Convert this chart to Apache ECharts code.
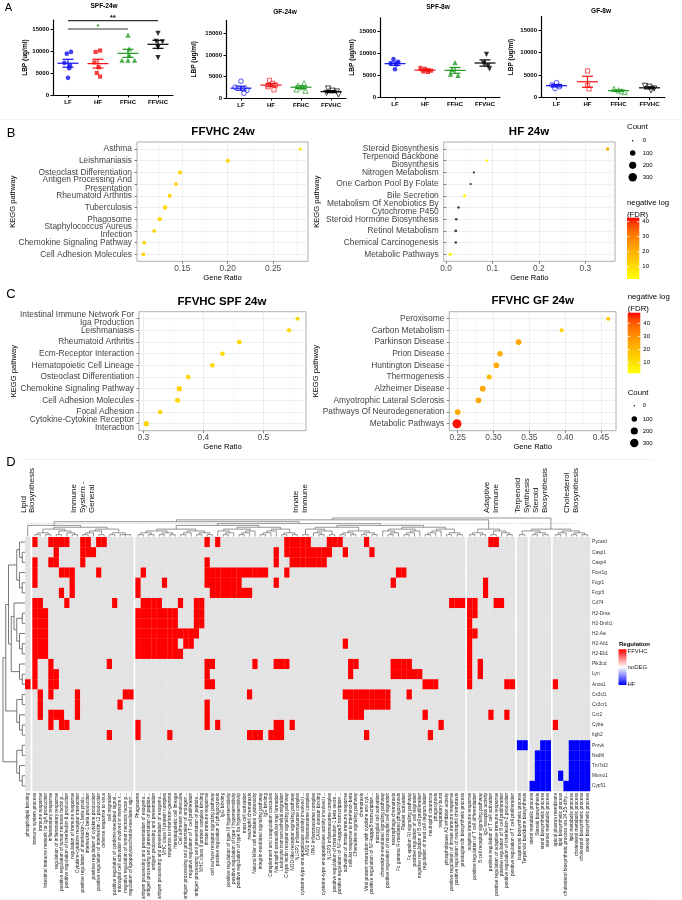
<!DOCTYPE html>
<html>
<head>
<meta charset="utf-8">
<script src="https://cdn.jsdelivr.net/npm/echarts@6.0.0/dist/echarts.min.js"></script>
<style>
html,body{margin:0;padding:0;background:#ffffff;}
#chart{width:682px;height:900px;}
</style>
</head>
<body>
<div id="chart"></div>
<script>
const FONT = '"Liberation Sans", Arial, Helvetica, sans-serif';

// ================= DATA: Panel A (LBP, ug/ml) =================
const groupNames = ['LF', 'HF', 'FFHC', 'FFVHC'];
const ticksA = [0, 5000, 10000, 15000];
const spf24wValues = [[9800, 9400, 7300, 6800, 6100, 3900], [10100, 9800, 7400, 6300, 5000, 4200], [13600, 10500, 9000, 7900, 7900, 7900], [14000, 12200, 12100, 10800, 8500]];
const spf24wJitter = [[0.1, -0.04, -0.12, 0.07, 0.04, 0], [0.07, -0.08, -0.12, 0.02, -0.04, 0.07], [0, 0.04, 0.05, -0.2, 0.0, 0.22], [0, -0.06, 0.15, 0, 0]];
const gf24wValues = [[3900, 2500, 2100, 1800, 1100], [4100, 3400, 3000, 2600, 1900], [3400, 2900, 2500, 2000, 1700], [2200, 1700, 1500, 1200, 800]];
const gf24wJitter = [[0, -0.2, 0.05, 0.2, 0.1], [-0.05, 0.05, 0.15, -0.1, 0.1], [0.1, -0.1, 0.05, -0.15, 0.15], [-0.1, 0.05, 0.2, -0.15, 0.25]];
const spf8wValues = [[8600, 8000, 7600, 7400, 6300], [6600, 6400, 6100, 6000, 5800, 5700], [7800, 6300, 5200, 4900], [9700, 7700, 7100, 6400]];
const spf8wJitter = [[-0.05, 0.1, -0.15, 0.05, 0], [-0.15, 0, 0.1, 0.2, -0.05, 0.1], [0, -0.1, -0.15, 0.1], [0.05, -0.05, 0.1, 0.15]];
const gf8wValues = [[3300, 2800, 2400, 2000], [5900, 2700, 1900], [1900, 1600, 1400, 1200], [2600, 2400, 2000, 1600]];
const gf8wJitter = [[0, -0.15, 0.1, -0.05], [0, 0, 0.05], [-0.15, 0, 0.1, 0.2], [-0.15, 0, 0.15, 0.05]];
// significance bars on SPF-24w: [fromGroup, toGroup, level, mark]
const sigBars = [[1, 3, 15000, '*'], [1, 4, 16900, '**']];
const sigColors = ['#1E991E', '#000000'];

// ================= DATA: Panels B / C (KEGG enrichment) =================
const b1Pathways = ['Asthma', 'Leishmaniasis', 'Osteoclast Differentiation', 'Antigen Processing And\nPresentation', 'Rheumatoid Arthritis', 'Tuberculosis', 'Phagosome', 'Staphylococcus Aureus\nInfection', 'Chemokine Signaling Pathway', 'Cell Adhesion Molecules'];
const b1GeneRatio = [0.280, 0.200, 0.1475, 0.143, 0.136, 0.131, 0.125, 0.119, 0.108, 0.107];
const b1Count = [14, 39, 39, 30, 39, 49, 49, 30, 30, 30];
const b1FDR = [9, 12, 12, 12, 12, 12, 12, 12, 12, 12];

const b2Pathways = ['Steroid Biosynthesis', 'Terpenoid Backbone\nBiosynthesis', 'Nitrogen Metabolism', 'One Carbon Pool By Folate', 'Bile Secretion', 'Metabolism Of Xenobiotics By\nCytochrome P450', 'Steroid Hormone Biosynthesis', 'Retinol Metabolism', 'Chemical Carcinogenesis', 'Metabolic Pathways'];
const b2GeneRatio = [0.348, 0.0875, 0.060, 0.053, 0.040, 0.027, 0.022, 0.021, 0.021, 0.009];
const b2Count = [20, 6, 3, 3, 14, 6, 6, 9, 6, 18];
const b2FDR = [21, 4, null, null, 4.3, null, null, null, null, 4.7];

const c1Pathways = ['Intestinal Immune Network For\nIga Production', 'Leishmaniasis', 'Rheumatoid Arthritis', 'Ecm-Receptor Interaction', 'Hematopoietic Cell Lineage', 'Osteoclast Differentiation', 'Chemokine Signaling Pathway', 'Cell Adhesion Molecules', 'Focal Adhesion', 'Cytokine-Cytokine Receptor\nInteraction'];
const c1GeneRatio = [0.557, 0.543, 0.46, 0.432, 0.415, 0.375, 0.36, 0.357, 0.328, 0.305];
const c1Count = [39, 49, 64, 56, 64, 64, 90, 77, 56, 90];
const c1FDR = [13, 13, 13, 13, 13, 13, 14, 13, 13, 14];

const c2Pathways = ['Peroxisome', 'Carbon Metabolism', 'Parkinson Disease', 'Prion Disease', 'Huntington Disease', 'Thermogenesis', 'Alzheimer Disease', 'Amyotrophic Lateral Sclerosis', 'Pathways Of Neurodegeneration', 'Metabolic Pathways'];
const c2GeneRatio = [0.46, 0.395, 0.335, 0.309, 0.304, 0.294, 0.285, 0.279, 0.25, 0.249];
const c2Count = [39, 39, 110, 100, 110, 77, 110, 110, 115, 352];
const c2FDR = [17, 15, 25, 23, 24, 20, 25, 25, 24, 47];

const countBreaks = [0, 100, 200, 300];
const fdrBreaks = [10, 20, 30, 40];

// ================= DATA: Panel D (heatmap) =================
const geneRows = ['Pycard', 'Casp1', 'Casp4', 'Fcer1g', 'Fcgr1', 'Fcgr3', 'Cd74', 'H2-Dma', 'H2-Dmb1', 'H2-Aa', 'H2-Ab1', 'H2-Eb1', 'Pik3cd', 'Lyn', 'Anxa1', 'Cx3cl1', 'Cx3cr1', 'Ccr2', 'Cyba', 'Itgb2', 'Pmvk', 'Nsdhl', 'Tm7sf2', 'Msmo1', 'Cyp51'];
const columnGroupSizes = [1, 19, 62, 9, 2, 4, 7];
const columnGroupNames = ['Lipid\nBiosynthesis', 'Immune\nSystem -\nGeneral', 'Innate\nImmune', 'Adaptive\nImmune', 'Terpenoid\nSynthesis', 'Steroid\nBiosynthesis', 'Cholesterol\nBiosynthesis'];
const columnTerms = [
  'phospholipid binding',
  'immune system process', 'immune response', 'Intestinal immune network for IgA production', 'inflammatory response', 'regulation of inflammatory response', 'positive regulation of tumor necrosis factor p...', 'positive regulation of interleukin-6 production', 'regulation of immune response', 'Cytokine-cytokine receptor interaction', 'positive regulation of interleukin-1 beta produ...', 'interleukin-1 beta production', 'positive regulation of cytokine production', 'positive regulation of interleukin-12 production', 'defense response to virus', 'cell migration', 'positive regulation of cytokine-mediated signal...', 'microglial cell activation involved in immune r...', 'negative regulation of tumor necrosis factor p...', 'regulation of lipopolysaccharide-mediated sign...',
  'Phagosome', 'antigen processing and presentation of exogeno...', 'antigen processing and presentation of peptide...', 'antigen processing and presentation', 'antigen processing and presentation of exogeno...', 'MHC class II protein complex', 'response to interferon-gamma', 'Hematopoietic cell lineage', 'Cell adhesion molecules', 'antigen processing and presentation of endogen...', 'negative regulation of T cell proliferation', 'antigen processing and presentation of peptide...', 'MHC class II protein complex binding', 'innate immune response', 'cell surface receptor signaling pathway', 'positive regulation of phagocytosis', 'IgG binding', 'positive regulation of type III hypersensitivity', 'positive regulation of type I hypersensitivity', 'positive regulation of type IIa hypersensitivity', 'mast cell activation', 'neutrophil chemotaxis', 'Natural killer cell mediated cytotoxicity', 'integrin-mediated signaling pathway', 'IgE binding', 'Complement and coagulation cascades', 'Neutrophil extracellular trap formation', 'Leukocyte transendothelial migration', 'C-type lectin receptor signaling pathway', 'NOD-like receptor signaling pathway', 'NLRP1 inflammasome complex', 'cysteine-type endopeptidase activity involved i...', 'AIM2 inflammasome complex', 'IPAF inflammasome complex', 'CARD domain binding', 'cysteine-type endopeptidase activity involved i...', 'NLRP3 inflammasome complex', 'positive regulation of interleukin-1 beta secre...', 'positive regulation of NF-kappaB transcription...', 'activation of innate immune response', 'cellular response to interferon-beta', 'Chemokine signaling pathway', 'chemotaxis', 'Viral protein interaction with cytokine and cyt...', 'positive regulation of NF-kappaB transcription...', 'microglial cell activation', 'chemokine-mediated signaling pathway', 'positive regulation of microglial cell migration', 'macrophage chemotaxis', 'Fc gamma R-mediated phagocytosis', 'Platelet activation', 'Fc epsilon RI signaling pathway', 'positive regulation of cell migration', 'negative regulation of B cell proliferation', 'regulation of mast cell degranulation', 'neutrophil clearance', 'phagocytosis', 'respiratory burst', 'phospholipase A2 inhibitor activity', 'positive regulation of innate immune response', 'positive regulation of neutrophil chemotaxis', 'prostaglandin biosynthetic process',
  'adaptive immune response', 'positive regulation of T cell differentiation', 'B cell receptor signaling pathway', 'IgG receptor activity', 'positive regulation of T cell activation', 'positive regulation of adaptive immune response', 'positive regulation of B cell proliferation', 'positive regulation of interleukin-2 production', 'positive regulation of T cell proliferation',
  'isoprenoid biosynthetic process', 'Terpenoid backbone biosynthesis',
  'sterol metabolic process', 'Steroid biosynthesis', 'sterol biosynthetic process', 'steroid metabolic process',
  'apical plasma membrane', 'lipid biosynthetic process', 'cholesterol biosynthetic process via 24,25-dihy...', 'lipid metabolic process', 'cholesterol metabolic process', 'cholesterol biosynthetic process', 'steroid biosynthetic process'
];
// columns where each gene is up in FFVHC (value 1)
const ffvhcUpColumns = [
  '1,4-7,10-11,13-14,33,35,48-52,56-58,63,86-87',
  '5,10-12,46,48-56,59,64',
  '1,4-5,10,33,46,49-55',
  '1,6-8,13,21,33-44,48,69-70',
  '1,8,20,25,33-39,46,68,85',
  '6,8,20,34-41,85',
  '1-2,7,16,21-24,28,31-32,79-83,87-88',
  '1-3,20-27,31-32,82-83',
  '1-3,20-27,31-32,82',
  '1-3,20-31,82-83',
  '1-3,20-27,29-30,59,82',
  '1-3,20-28,82',
  '1,4,15,33-34,42,46-48,60-61,68-71,82,84',
  '1,4-5,33,60,68-73,82,84',
  '0-1,4-5,33-34,74-76,82,89-90,97',
  '2,4,9,18-19,41,59-67,71',
  '2,9,17,33,60-67',
  '2,4-6,9,33,60-62,74,86,89',
  '4,6-7,20,33,35,46-47,49,77,97',
  '15,20,26,41-43,45-47,63,75',
  '', '', '', '', ''
];
// columns where each gene is up in HF (value -1)
const hfUpColumns = [
  '', '', '', '', '', '', '', '', '', '', '', '', '', '', '', '', '', '', '', '',
  '91-92,95-96,100-103',
  '94-96,100-103',
  '94-96,100-103',
  '94-96,98,100-103',
  '93-96,99-103'
];
// dendrogram topologies ('*' = leaf, in display order)
const rowTree = '(((((*,(*,*)),(*,(*,*))),((*,((*,*),(*,(*,*)))),(*,(*,*)))),((*,*),(*,(*,*)))),((*,*),(*,(*,*))))';
const colTreeG2 = '((((*,*),(*,*)),((*,*),(*,(*,*)))),((((*,*),*),(*,*)),((*,*),(*,*,*))))';
const colTreeA8 = '(((*,*),(*,*)),((*,*),(*,*)))';
const colTreeB8 = '((*,((*,*),*)),(((*,*),*),*))';
const colTreeC7 = '(((*,*),*),((*,*),(*,*)))';
const colTreeD7 = '((*,*),((*,(*,*)),(*,*)))';
const colTreeE8 = '((((*,*),*),*),((*,*),(*,*)))';
const colTreeG4 = '(((*,*),(*,*)),((*,*),(*,(*,*))))';
const colTreeG5 = '(*,*)';
const colTreeG6 = '((*,*),(*,*))';
const colTreeG7 = '(((*,*),*),((*,*),(*,*)))';

// ================= helpers =================
const grids = [], xAxes = [], yAxes = [], series = [], graphics = [];
function txt(text, x, y, size, align, opts) {
  opts = opts || {};
  return { type: 'text', x: x, y: y, rotation: opts.rotation || 0, silent: true, z: 100,
    style: { text: text, fontSize: size, fontFamily: FONT, fontWeight: opts.bold ? 'bold' : 'normal', fill: opts.color || '#000', align: align || 'left', verticalAlign: 'middle', lineHeight: opts.lineHeight } };
}
function seg(x1, y1, x2, y2, color, w, dash) {
  return { type: 'line', silent: true, z: 100, shape: { x1: x1, y1: y1, x2: x2, y2: y2 }, style: { stroke: color, lineWidth: w || 1, lineDash: dash || null } };
}
function meanSem(a) {
  const n = a.length, m = a.reduce((s, v) => s + v, 0) / n;
  const sd = Math.sqrt(a.reduce((s, v) => s + (v - m) * (v - m), 0) / (n - 1));
  return [m, sd / Math.sqrt(n)];
}
const sizeFn = c => 1.5 + 0.4 * Math.sqrt(c);
const fdrStops = [[0, [255, 255, 0]], [0.25, [255, 212, 0]], [0.5, [255, 166, 0]], [0.75, [255, 114, 0]], [0.9, [255, 66, 0]], [1, [255, 0, 0]]];
function fdrColor(v, lo, hi) {
  if (v == null || v < 0) return '#3A3A3A';
  let t = (v - lo) / (hi - lo); t = Math.max(0, Math.min(1, t));
  for (let i = 1; i < fdrStops.length; i++) {
    const t0 = fdrStops[i - 1][0], c0 = fdrStops[i - 1][1], t1 = fdrStops[i][0], c1 = fdrStops[i][1];
    if (t <= t1) { const u = (t - t0) / (t1 - t0); const c = c0.map((x, k) => Math.round(x + (c1[k] - x) * u)); return 'rgb(' + c.join(',') + ')'; }
  }
  return 'rgb(255,0,0)';
}

// ================= Panel A =================
const groupColors = ['#1212F2', '#F21212', '#1E991E', '#000000'];
const groupSymbols = ['circle', 'rect', 'triangle', 'triangle'];
const groupRotate = [0, 0, 0, 180];
const groupSymSize = [4.6, 4.2, 5.2, 5.2];
const panelA = [
  { title: 'SPF-24w', vals: spf24wValues, jit: spf24wJitter, open: false, box: [53, 20.2, 120, 74.8], max: 17000, tx: 104, ty: 6, nameGap: 21.5 },
  { title: 'GF-24w', vals: gf24wValues, jit: gf24wJitter, open: true, box: [226, 20.4, 120, 77.6], max: 18000, tx: 285, ty: 12, nameGap: 28.5 },
  { title: 'SPF-8w', vals: spf8wValues, jit: spf8wJitter, open: false, box: [380, 17.8, 120, 79.2], max: 18000, tx: 438, ty: 7.3, nameGap: 22 },
  { title: 'GF-8w', vals: gf8wValues, jit: gf8wJitter, open: true, box: [541, 16.5, 124, 81], max: 18000, tx: 601, ty: 11.7, nameGap: 26 }
];
panelA.forEach((p, pi) => {
  const gi = grids.length, xi = xAxes.length, yi = yAxes.length;
  grids.push({ left: p.box[0], top: p.box[1], width: p.box[2], height: p.box[3], outerBoundsMode: 'none' });
  xAxes.push({ gridIndex: gi, type: 'value', min: 0.5, max: 4.5,
    axisLine: { show: true, onZero: false, lineStyle: { color: '#000', width: 1.2 } },
    axisTick: { show: true, customValues: [1, 2, 3, 4], length: 2.5, lineStyle: { color: '#000', width: 1 } },
    axisLabel: { show: true, customValues: [1, 2, 3, 4], showMinLabel: true, showMaxLabel: true, hideOverlap: false, formatter: v => groupNames[Math.round(v) - 1], fontSize: 6, fontWeight: 'bold', color: '#000', fontFamily: FONT, margin: 4 },
    splitLine: { show: false } });
  yAxes.push({ gridIndex: gi, type: 'value', min: 0, max: p.max,
    axisLine: { show: true, onZero: false, lineStyle: { color: '#000', width: 1.2 } },
    axisTick: { show: true, customValues: ticksA, length: 2.5, lineStyle: { color: '#000', width: 1 } },
    axisLabel: { show: true, customValues: ticksA, showMinLabel: true, showMaxLabel: true, hideOverlap: false, formatter: v => String(Math.round(v)), fontSize: 6, fontWeight: 'bold', color: '#000', fontFamily: FONT, margin: 4 },
    splitLine: { show: false },
    name: 'LBP (ug/ml)', nameLocation: 'middle', nameGap: p.nameGap, nameRotate: 90,
    nameTextStyle: { fontSize: 6.5, fontWeight: 'bold', color: '#000', fontFamily: FONT } });
  p.vals.forEach((arr, g) => {
    series.push({ type: 'scatter', xAxisIndex: xi, yAxisIndex: yi, silent: true, z: 3,
      symbol: groupSymbols[g], symbolRotate: groupRotate[g], symbolSize: groupSymSize[g],
      itemStyle: p.open ? { color: '#ffffff', borderColor: groupColors[g], borderWidth: 0.9 } : { color: groupColors[g] },
      data: arr.map((v, i) => [g + 1 + p.jit[g][i], v]) });
  });
  series.push({ type: 'custom', xAxisIndex: xi, yAxisIndex: yi, silent: true, z: 5, clip: false,
    data: p.vals.map((arr, g) => { const ms = meanSem(arr); return [g + 1, ms[0], ms[1], g]; }),
    renderItem: function (params, api) {
      const x = api.value(0), m = api.value(1), s = api.value(2), g = api.value(3);
      const c = api.coord([x, m]), up = api.coord([x, m + s]), dn = api.coord([x, m - s]);
      const st = { stroke: groupColors[g], lineWidth: 1.2 };
      return { type: 'group', children: [
        { type: 'line', shape: { x1: c[0] - 10.5, y1: c[1], x2: c[0] + 10.5, y2: c[1] }, style: st },
        { type: 'line', shape: { x1: c[0], y1: up[1], x2: c[0], y2: dn[1] }, style: st },
        { type: 'line', shape: { x1: c[0] - 5.5, y1: up[1], x2: c[0] + 5.5, y2: up[1] }, style: st },
        { type: 'line', shape: { x1: c[0] - 5.5, y1: dn[1], x2: c[0] + 5.5, y2: dn[1] }, style: st }
      ] };
    } });
  if (pi === 0) {
    series.push({ type: 'custom', xAxisIndex: xi, yAxisIndex: yi, silent: true, z: 5, clip: false,
      data: sigBars.map((b, k) => [b[0], b[1], b[2], k]),
      renderItem: function (params, api) {
        const k = api.value(3);
        const a = api.coord([api.value(0), api.value(2)]), b = api.coord([api.value(1), api.value(2)]);
        return { type: 'group', children: [
          { type: 'line', shape: { x1: a[0], y1: a[1], x2: b[0], y2: b[1] }, style: { stroke: '#333', lineWidth: 1.1 } },
          { type: 'text', x: (a[0] + b[0]) / 2, y: a[1] - 2.5, style: { text: sigBars[k][3], fontSize: 7.5, fontWeight: 'bold', fontFamily: FONT, fill: sigColors[k], align: 'center', verticalAlign: 'middle' } }
        ] };
      } });
  }
  graphics.push(txt(p.title, p.tx, p.ty, 6.5, 'center', { bold: true }));
});

// ================= Panels B / C =================
const panelsBC = [
  { title: 'FFVHC 24w', names: b1Pathways, ratio: b1GeneRatio, count: b1Count, fdr: b1FDR, box: [137, 142, 171, 119.3], xmin: 0.1, xmax: 0.2885, major: [0.15, 0.2, 0.25], minor: [0.125, 0.175, 0.225, 0.275], dec: 2, tx: 223, ty: 131.7, nameGap: 120.5, lim: [1.8, 42.7] },
  { title: 'HF 24w', names: b2Pathways, ratio: b2GeneRatio, count: b2Count, fdr: b2FDR, box: [443.7, 142, 171.3, 119.3], xmin: -0.005, xmax: 0.364, major: [0, 0.1, 0.2, 0.3], minor: [0.05, 0.15, 0.25, 0.35], dec: 1, tx: 529, ty: 131.7, nameGap: 123.2, lim: [1.8, 42.7] },
  { title: 'FFVHC SPF 24w', names: c1Pathways, ratio: c1GeneRatio, count: c1Count, fdr: c1FDR, box: [139, 311.7, 167, 119], xmin: 0.2928, xmax: 0.5712, major: [0.3, 0.4, 0.5], minor: [0.35, 0.45, 0.55], dec: 1, tx: 222, ty: 301.5, nameGap: 121, lim: [1.9, 48.1] },
  { title: 'FFVHC GF 24w', names: c2Pathways, ratio: c2GeneRatio, count: c2Count, fdr: c2FDR, box: [449.3, 311.7, 166.7, 119], xmin: 0.2383, xmax: 0.4709, major: [0.25, 0.3, 0.35, 0.4, 0.45], minor: [0.275, 0.325, 0.375, 0.425], dec: 2, tx: 532.7, ty: 301, nameGap: 129.2, lim: [1.9, 48.1] }
];
const rowPositions = [1, 2, 3, 4, 5, 6, 7, 8, 9, 10];
panelsBC.forEach(p => {
  const gi = grids.length, xi = xAxes.length, yi = yAxes.length;
  grids.push({ left: p.box[0], top: p.box[1], width: p.box[2], height: p.box[3], show: true, borderColor: '#9a9a9a', borderWidth: 0.8, backgroundColor: '#ffffff', outerBoundsMode: 'none' });
  xAxes.push({ gridIndex: gi, type: 'value', min: p.xmin, max: p.xmax,
    axisLine: { show: false },
    axisTick: { show: true, customValues: p.major, length: 2.5, lineStyle: { color: '#333', width: 0.6 } },
    axisLabel: { show: true, customValues: p.major, showMinLabel: true, showMaxLabel: true, hideOverlap: false, formatter: v => v.toFixed(p.dec), fontSize: 8.4, color: '#4D4D4D', fontFamily: FONT, margin: 3 },
    splitLine: { show: true, lineStyle: { color: '#E6E6E6', width: 0.7 } },
    name: 'Gene Ratio', nameLocation: 'middle', nameGap: 12.6, nameTextStyle: { fontSize: 7.6, color: '#000', fontFamily: FONT } });
  xAxes.push({ gridIndex: gi, type: 'value', min: p.xmin, max: p.xmax, position: 'bottom',
    axisLine: { show: false }, axisTick: { show: false, customValues: p.minor }, axisLabel: { show: false, customValues: p.minor },
    splitLine: { show: true, lineStyle: { color: '#F3F3F3', width: 0.5 } } });
  yAxes.push({ gridIndex: gi, type: 'value', inverse: true, min: 0.4, max: 10.6,
    axisLine: { show: false },
    axisTick: { show: true, customValues: rowPositions, length: 2.5, lineStyle: { color: '#333', width: 0.6 } },
    axisLabel: { show: false, customValues: rowPositions },
    splitLine: { show: true, lineStyle: { color: '#E6E6E6', width: 0.7 } },
    name: 'KEGG pathway', nameLocation: 'middle', nameGap: p.nameGap, nameRotate: 90,
    nameTextStyle: { fontSize: 7.6, color: '#000', fontFamily: FONT } });
  // pathway labels, placed through the y scale
  series.push({ type: 'custom', xAxisIndex: xi, yAxisIndex: yi, silent: true, clip: false, z: 4,
    data: p.names.map((n, i) => [p.xmin, i + 1, i]),
    renderItem: function (params, api) {
      const c = api.coord([api.value(0), api.value(1)]);
      return { type: 'text', x: c[0] - 5, y: c[1], style: { text: p.names[api.value(2)], fontSize: 8.4, lineHeight: 8.3, fontFamily: FONT, fill: '#444', align: 'right', verticalAlign: 'middle' } };
    } });
  series.push({ type: 'scatter', xAxisIndex: xi, yAxisIndex: yi, silent: true, z: 4,
    data: p.ratio.map((r, i) => [r, i + 1, p.count[i], p.fdr[i] == null ? -1 : p.fdr[i]]),
    symbolSize: v => sizeFn(v[2]),
    itemStyle: { color: params => fdrColor(params.value[3], p.lim[0], p.lim[1]), opacity: 1 } });
  graphics.push(txt(p.title, p.tx, p.ty, 11.5, 'center', { bold: true }));
});

function colorbar(x, yTop, w, yBot, lo, hi, y1, y2) {
  graphics.push(txt('negative log', x, y1, 7.8, 'left'));
  graphics.push(txt('(FDR)', x, y2, 7.8, 'left'));
  graphics.push({ type: 'rect', silent: true, z: 100, shape: { x: x, y: yTop, width: w, height: yBot - yTop },
    style: { fill: { type: 'linear', x: 0, y: 0, x2: 0, y2: 1, colorStops: fdrStops.map(s => ({ offset: 1 - s[0], color: 'rgb(' + s[1].join(',') + ')' })).reverse() } } });
  fdrBreaks.forEach(v => {
    const y = yBot - (v - lo) / (hi - lo) * (yBot - yTop);
    graphics.push(seg(x, y, x + 2.5, y, '#ffffff', 0.8));
    graphics.push(seg(x + w - 2.5, y, x + w, y, '#ffffff', 0.8));
    graphics.push(txt(String(v), x + w + 3, y, 6, 'left'));
  });
}
function countLegend(x, titleY, dotX, labelX, ys) {
  graphics.push(txt('Count', x, titleY, 7.8, 'left'));
  countBreaks.forEach((c, i) => {
    graphics.push({ type: 'circle', silent: true, z: 100, shape: { cx: dotX, cy: ys[i], r: sizeFn(c) / 2 }, style: { fill: '#000' } });
    graphics.push(txt(String(c), labelX, ys[i], 6, 'left'));
  });
}
countLegend(627, 127, 632.7, 642.7, [140.7, 153, 165.3, 177.3]);
colorbar(627, 217.7, 12.3, 279, 1.8, 42.7, 203, 214.5);
colorbar(627.7, 312.7, 12.6, 373.3, 1.9, 48.1, 297, 308.5);
countLegend(627.7, 393.3, 634.3, 642.7, [405.7, 419, 431, 443]);

// ================= Panel D =================
const GAP = 0.375;
const colX = [];
const groupCenters = [];
(function () {
  let idx = 0;
  columnGroupSizes.forEach((n, g) => {
    const first = idx;
    for (let i = 0; i < n; i++) { colX.push(idx + 0.5 + g * GAP); idx++; }
    groupCenters.push((colX[first] + colX[idx - 1]) / 2);
  });
})();
const totalX = colX.length + (columnGroupSizes.length - 1) * GAP;
function parseCols(s) {
  const out = [];
  if (!s) return out;
  s.split(',').forEach(part => {
    const ab = part.split('-').map(Number);
    if (ab.length === 1) out.push(ab[0]); else for (let i = ab[0]; i <= ab[1]; i++) out.push(i);
  });
  return out;
}
const cells = [];
geneRows.forEach((g, r) => {
  const row = new Array(colX.length).fill(0);
  parseCols(ffvhcUpColumns[r]).forEach(c => { row[c] = 1; });
  parseCols(hfUpColumns[r]).forEach(c => { row[c] = -1; });
  row.forEach((v, c) => cells.push([colX[c], r, v]));
});

// heatmap grid
const hg = grids.length, hx = xAxes.length, hy = yAxes.length;
grids.push({ left: 25, top: 537, width: 565, height: 254, outerBoundsMode: 'none' });
xAxes.push({ gridIndex: hg, type: 'value', min: 0, max: totalX, show: false });
yAxes.push({ gridIndex: hg, type: 'category', data: geneRows, inverse: true, position: 'right',
  axisLine: { show: false }, axisTick: { show: false },
  axisLabel: { show: true, interval: 0, hideOverlap: false, fontSize: 4.8, color: '#333', fontFamily: FONT, margin: 2 },
  splitLine: { show: false } });
series.push({ type: 'custom', xAxisIndex: hx, yAxisIndex: hy, silent: true, clip: false, z: 2,
  data: cells,
  renderItem: function (params, api) {
    const x = api.value(0), r = api.value(1), v = api.value(2);
    const p = api.coord([x, r]);
    const sz = api.size([1, 1]);
    const w = api.size([1, 0])[0];
    return { type: 'rect', shape: { x: p[0] - w / 2, y: p[1] - sz[1] / 2, width: w + 0.25, height: sz[1] + 0.25 },
      style: { fill: v > 0 ? '#FF0000' : (v < 0 ? '#0000FF' : '#E3E3E3') } };
  } });
series.push({ type: 'custom', xAxisIndex: hx, yAxisIndex: hy, silent: true, clip: false, z: 3,
  data: colX.map((x, i) => [x, geneRows.length - 1, i]),
  renderItem: function (params, api) {
    const p = api.coord([api.value(0), api.value(1)]);
    const h = api.size([1, 1])[1];
    return { type: 'text', x: p[0], y: p[1] + h / 2 + 1.8, rotation: Math.PI / 2,
      style: { text: columnTerms[api.value(2)], fontSize: 4.8, fontFamily: FONT, fill: '#222', align: 'right', verticalAlign: 'middle' } };
  } });

// dendrograms
function buildDendro(str, leafPos) {
  let pos = 0, leaf = 0;
  const segs = [];
  function node() {
    if (str[pos] === '(') {
      pos++;
      const ch = [];
      for (;;) {
        ch.push(node());
        if (str[pos] === ',') { pos++; continue; }
        pos++; break;
      }
      const h = 1 + Math.max.apply(null, ch.map(c => c.h));
      const p = (ch[0].p + ch[ch.length - 1].p) / 2;
      segs.push([ch[0].p, h, ch[ch.length - 1].p, h]);
      ch.forEach(c => segs.push([c.p, c.h, c.p, h]));
      return { h: h, p: p };
    }
    pos++;
    return { h: 0, p: leafPos[leaf++] };
  }
  const root = node();
  return { segs: segs, maxH: root.h };
}
const colTreeG3 = '(((' + colTreeA8 + ',' + colTreeC7 + '),(' + colTreeB8 + ',' + colTreeE8 + ')),((' + colTreeD7 + ',' + colTreeA8 + '),(' + colTreeB8 + ',' + colTreeE8 + ')))';
const colTree = '((((*,' + colTreeG2 + '),' + colTreeG3 + '),' + colTreeG4 + '),((' + colTreeG5 + ',' + colTreeG6 + '),' + colTreeG7 + '))';
const colDendro = buildDendro(colTree, colX);
const rowDendro = buildDendro(rowTree, geneRows.map((g, i) => i));

const cg = grids.length, cx = xAxes.length, cy = yAxes.length;
grids.push({ left: 25, top: 518, width: 565, height: 18.5, outerBoundsMode: 'none' });
xAxes.push({ gridIndex: cg, type: 'value', min: 0, max: totalX, show: false });
yAxes.push({ gridIndex: cg, type: 'value', min: 0, max: colDendro.maxH, show: false });
series.push({ type: 'custom', xAxisIndex: cx, yAxisIndex: cy, silent: true, clip: false, z: 2,
  data: colDendro.segs,
  renderItem: function (params, api) {
    const a = api.coord([api.value(0), api.value(1)]), b = api.coord([api.value(2), api.value(3)]);
    return { type: 'line', shape: { x1: a[0], y1: a[1], x2: b[0], y2: b[1] }, style: { stroke: '#7a7a7a', lineWidth: 0.8 } };
  } });
series.push({ type: 'custom', xAxisIndex: cx, yAxisIndex: cy, silent: true, clip: false, z: 2,
  data: groupCenters.map((x, i) => [x, colDendro.maxH, i]),
  renderItem: function (params, api) {
    const p = api.coord([api.value(0), api.value(1)]);
    return { type: 'text', x: p[0], y: p[1] - 5, rotation: Math.PI / 2,
      style: { text: columnGroupNames[api.value(2)], fontSize: 8, lineHeight: 8.7, fontFamily: FONT, fill: '#111', align: 'left', verticalAlign: 'middle' } };
  } });

const rg = grids.length, rx = xAxes.length, ry = yAxes.length;
grids.push({ left: 3, top: 537, width: 22, height: 254, outerBoundsMode: 'none' });
xAxes.push({ gridIndex: rg, type: 'value', min: 0, max: rowDendro.maxH, inverse: true, show: false });
yAxes.push({ gridIndex: rg, type: 'value', min: -0.5, max: geneRows.length - 0.5, inverse: true, show: false });
series.push({ type: 'custom', xAxisIndex: rx, yAxisIndex: ry, silent: true, clip: false, z: 2,
  data: rowDendro.segs,
  renderItem: function (params, api) {
    const a = api.coord([api.value(1), api.value(0)]), b = api.coord([api.value(3), api.value(2)]);
    return { type: 'line', shape: { x1: a[0], y1: a[1], x2: b[0], y2: b[1] }, style: { stroke: '#555', lineWidth: 0.8 } };
  } });

// heatmap legend
graphics.push(txt('Regulation', 619, 644.3, 6, 'left', { bold: true }));
graphics.push({ type: 'rect', silent: true, z: 100, shape: { x: 618.5, y: 649.3, width: 8, height: 35.7 },
  style: { fill: { type: 'linear', x: 0, y: 0, x2: 0, y2: 1, colorStops: [{ offset: 0, color: '#FF0000' }, { offset: 0.5, color: '#FFFFFF' }, { offset: 1, color: '#0000FF' }] } } });
graphics.push(txt('FFVHC', 627.5, 651.3, 6, 'left', { color: '#222' }));
graphics.push(txt('noDEG', 627.5, 667.7, 6, 'left', { color: '#222' }));
graphics.push(txt('HF', 627.5, 684.3, 6, 'left', { color: '#222' }));
graphics.push(seg(27, 523.5, 577, 523.5, '#b5b5b5', 0.5, [2, 1.5]));

// panel letters and faint separators
graphics.push(txt('A', 8.5, 8, 11, 'center'));
graphics.push(txt('B', 11, 133, 13, 'center'));
graphics.push(txt('C', 11, 294, 13, 'center'));
graphics.push(txt('D', 11, 462.5, 13, 'center'));
graphics.push(seg(0, 119.5, 682, 119.5, '#EFEFEF', 0.8));
graphics.push(seg(22, 459.5, 653, 459.5, '#EFEFEF', 0.8));
graphics.push(seg(0, 899, 653, 899, '#EFEFEF', 0.8));

const chart = echarts.init(document.getElementById('chart'), null, { renderer: 'canvas', width: 682, height: 900 });
chart.setOption({
  animation: false,
  backgroundColor: '#ffffff',
  textStyle: { fontFamily: FONT },
  grid: grids,
  xAxis: xAxes,
  yAxis: yAxes,
  series: series,
  graphic: { elements: graphics }
});
</script>
</body>
</html>
